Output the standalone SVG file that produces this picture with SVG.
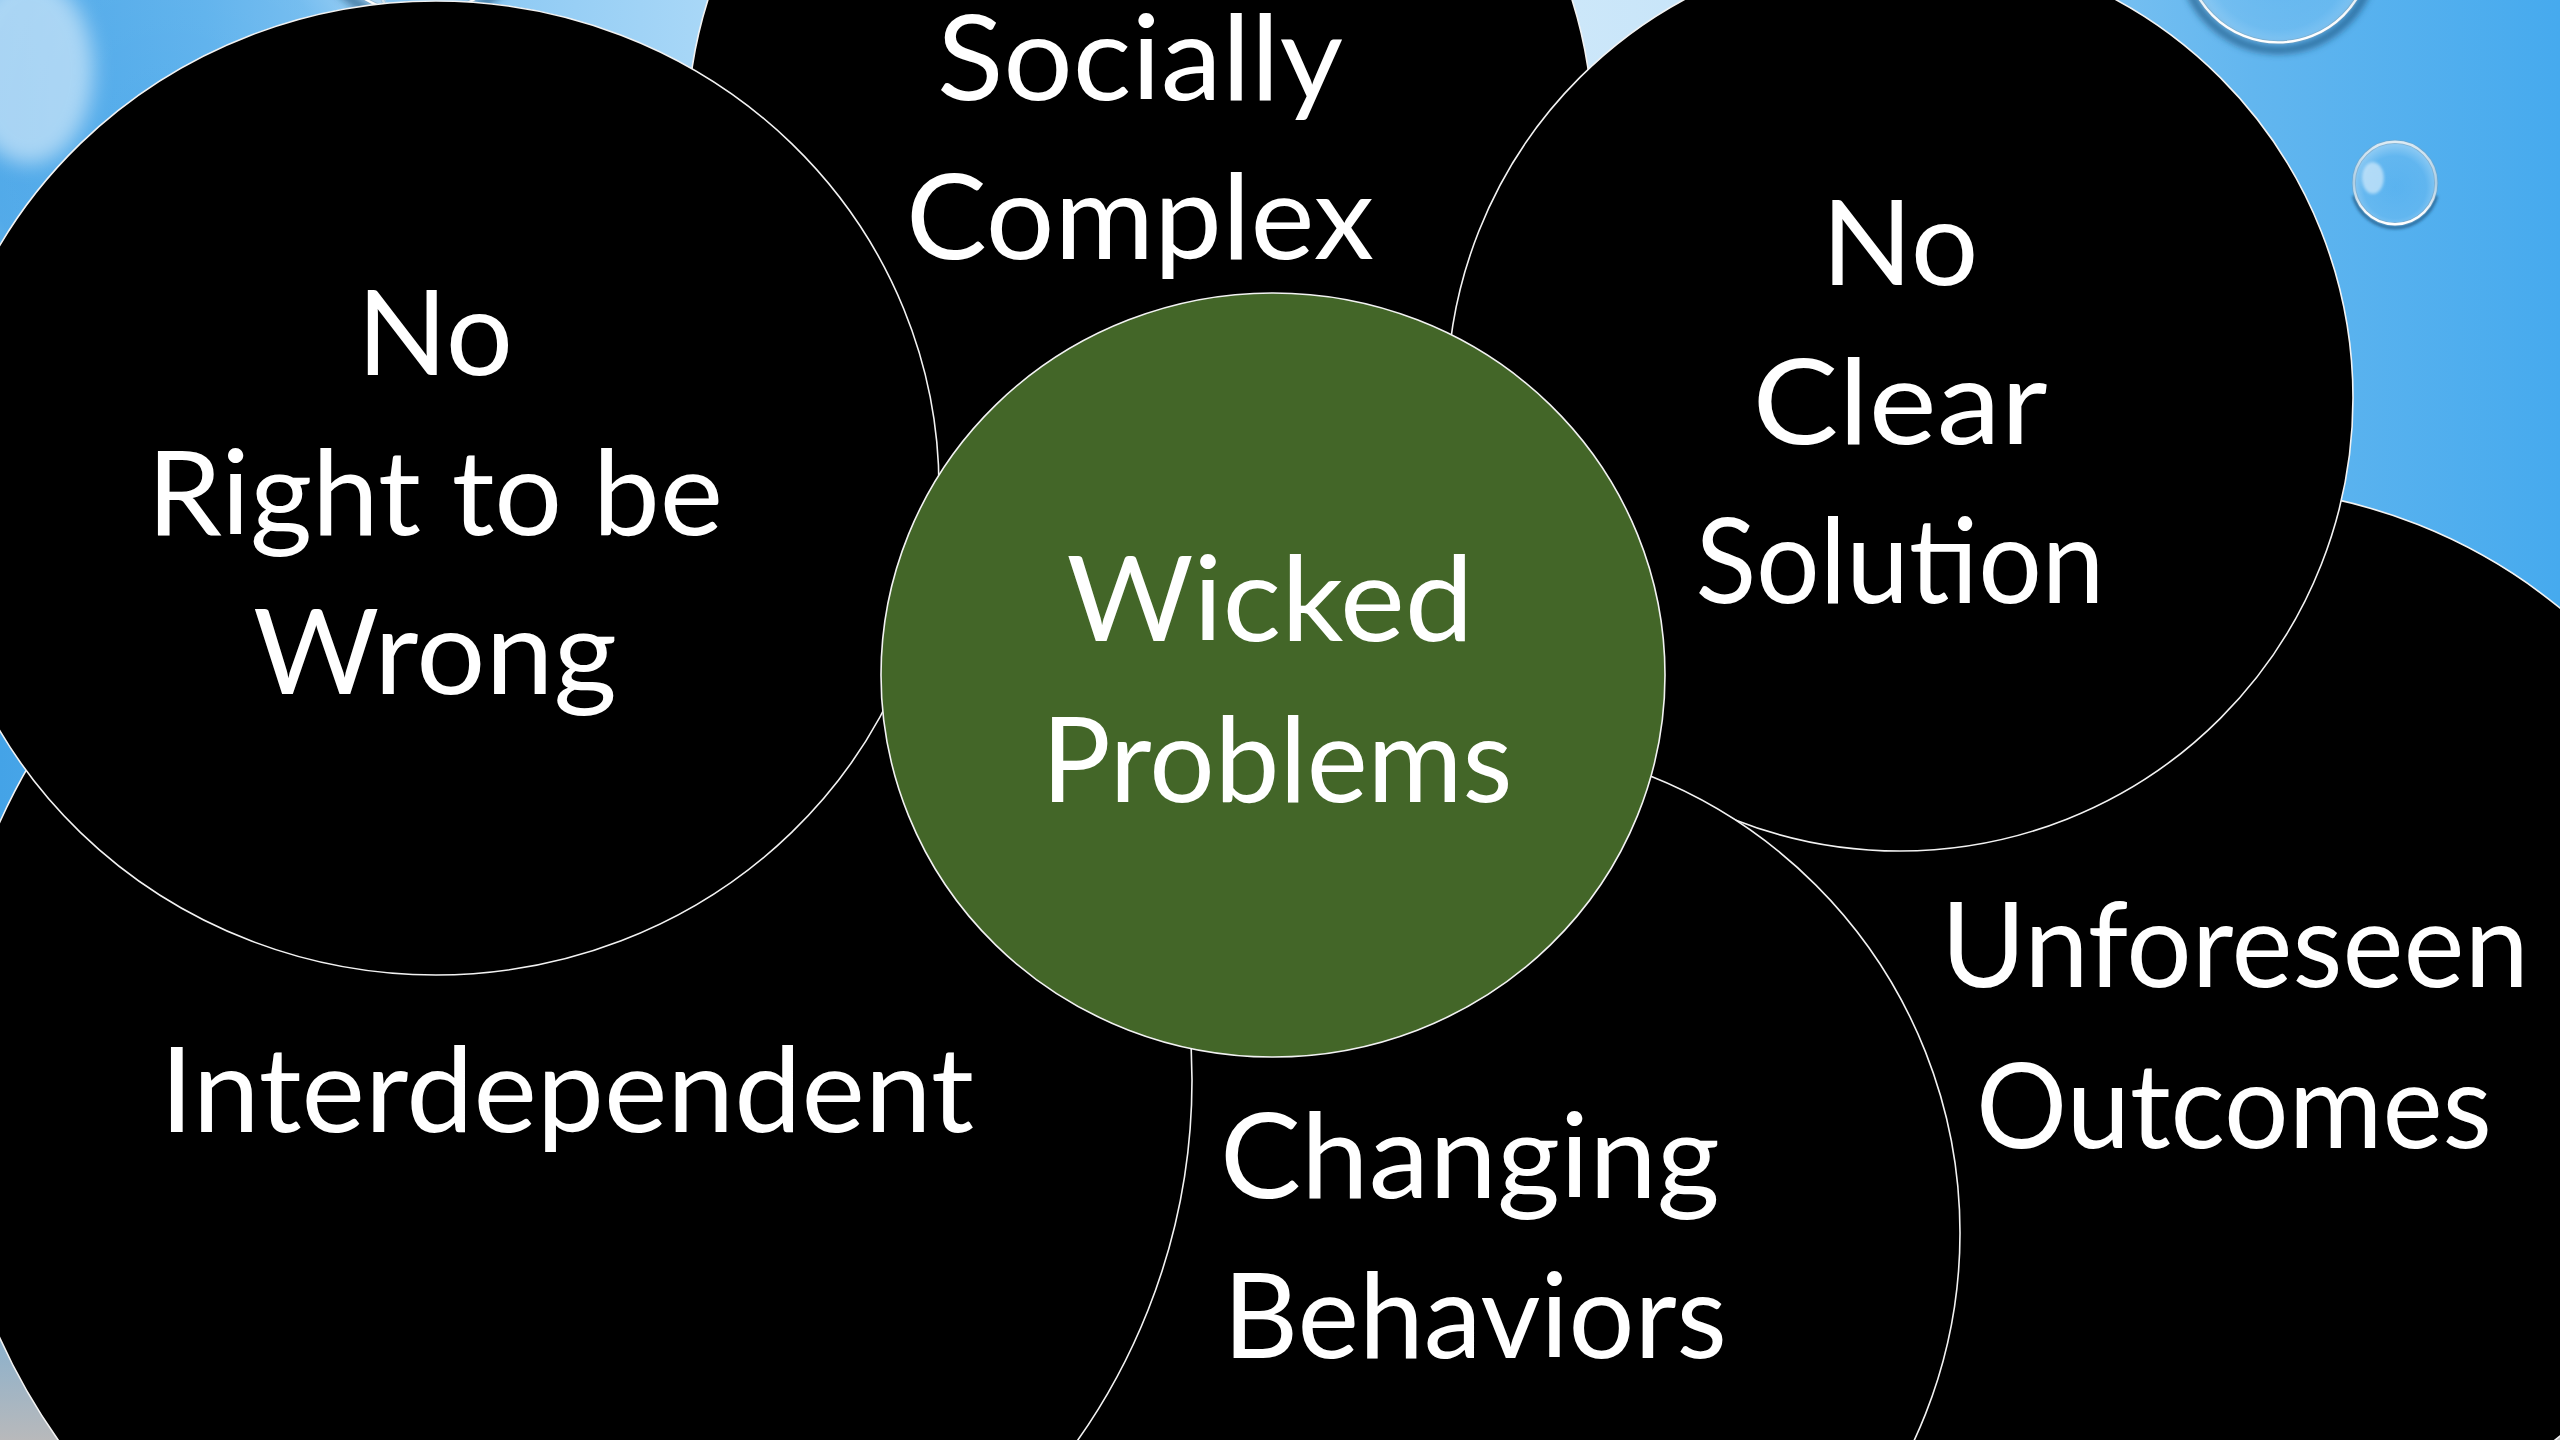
<svg xmlns="http://www.w3.org/2000/svg" xmlns:xlink="http://www.w3.org/1999/xlink" width="2560" height="1440" viewBox="0 0 2560 1440">
  <defs>
    <style>
      .disc { fill: #000; stroke: #f2f2f2; stroke-width: 1.6; }
      .hub { fill: #436628; stroke: #f2f2f2; stroke-width: 1.6; }
      .label { font-family: Lato, "Open Sans", "Liberation Sans", sans-serif; font-size: 118px; fill: #fff; text-anchor: middle; }
    </style>
    <!-- sky backdrop: lighter towards the upper middle, greying at the bottom -->
    <linearGradient id="sky" x1="0" y1="0" x2="1" y2="0">
      <stop offset="0" stop-color="#44a3e7"/>
      <stop offset="0.08" stop-color="#58afec"/>
      <stop offset="0.2" stop-color="#90cbf4"/>
      <stop offset="0.3" stop-color="#b0dbf8"/>
      <stop offset="0.55" stop-color="#d2eafa"/>
      <stop offset="0.66" stop-color="#c8e5f9"/>
      <stop offset="0.78" stop-color="#86c7f3"/>
      <stop offset="0.88" stop-color="#62b6ef"/>
      <stop offset="1" stop-color="#46aaee"/>
    </linearGradient>
    <linearGradient id="floor" x1="0" y1="0" x2="0" y2="1">
      <stop offset="0.72" stop-color="#b8b9bb" stop-opacity="0"/>
      <stop offset="0.9" stop-color="#b8b9bb" stop-opacity="0.45"/>
      <stop offset="1" stop-color="#b8b9bb" stop-opacity="1"/>
    </linearGradient>
    <!-- water droplet parts -->
    <radialGradient id="dropBody" cx="0.5" cy="0.55" r="0.5">
      <stop offset="0" stop-color="#ffffff" stop-opacity="0.03"/>
      <stop offset="0.75" stop-color="#ffffff" stop-opacity="0.08"/>
      <stop offset="1" stop-color="#ffffff" stop-opacity="0.3"/>
    </radialGradient>
    <linearGradient id="dropRim" x1="0" y1="0" x2="0" y2="1">
      <stop offset="0" stop-color="#ffffff" stop-opacity="0.75"/>
      <stop offset="0.5" stop-color="#e8f2f8" stop-opacity="0.45"/>
      <stop offset="0.85" stop-color="#ffffff" stop-opacity="0.95"/>
      <stop offset="1" stop-color="#ffffff" stop-opacity="1"/>
    </linearGradient>
    <filter id="soft" x="-50%" y="-50%" width="200%" height="200%">
      <feGaussianBlur stdDeviation="4"/>
    </filter>
    <symbol id="drop" viewBox="-120 -120 240 240" overflow="visible">
      <path d="M 99.5 26.7 A 103 103 0 0 1 -99.5 26.7" transform="translate(0 4)" fill="none" stroke="#174b75" stroke-opacity="0.7" stroke-width="8" filter="url(#soft)"/>
      <circle r="100" fill="url(#dropBody)"/>
      <circle r="99" fill="none" stroke="#7d9db3" stroke-opacity="0.5" stroke-width="4" vector-effect="non-scaling-stroke"/>
      <circle r="99" fill="none" stroke="url(#dropRim)" stroke-width="2.4" vector-effect="non-scaling-stroke"/>
      <ellipse cx="-53" cy="-12" rx="26" ry="38" fill="#ffffff" opacity="0.5" filter="url(#soft)"/>
    </symbol>
  </defs>

  <!-- backdrop -->
  <rect width="2560" height="1440" fill="url(#sky)"/>
  <rect width="2560" height="1440" fill="url(#floor)"/>

  <!-- droplets -->
  <g id="droplets">
    <use href="#drop" x="-136" y="-196" width="592" height="592"/>
    <use href="#drop" x="288" y="-227" width="264" height="264"/>
    <use href="#drop" x="2166" y="-162" width="224" height="224"/>
    <use href="#drop" x="2345" y="133" width="100" height="100"/>
  </g>

  <!-- radial set of characteristics, back to front -->
  <g id="socially-complex">
    <circle class="disc" cx="1140" cy="136" r="453"/>
    <text class="label" x="1140" y="100" textLength="406" lengthAdjust="spacingAndGlyphs">Socially</text>
    <text class="label" x="1140" y="259" textLength="468" lengthAdjust="spacingAndGlyphs">Complex</text>
  </g>
  <g id="unforeseen-outcomes">
    <circle class="disc" cx="2221" cy="1022" r="535"/>
    <text class="label" x="2235" y="987" textLength="588" lengthAdjust="spacingAndGlyphs">Unforeseen</text>
    <text class="label" x="2234" y="1148" textLength="516" lengthAdjust="spacingAndGlyphs">Outcomes</text>
  </g>
  <g id="no-clear-solution">
    <circle class="disc" cx="1900" cy="398" r="453"/>
    <text class="label" x="1900" y="285" textLength="157" lengthAdjust="spacingAndGlyphs">No</text>
    <text class="label" x="1900" y="444" textLength="295" lengthAdjust="spacingAndGlyphs">Clear</text>
    <text class="label" x="1900" y="603" textLength="409" lengthAdjust="spacingAndGlyphs">Solution</text>
  </g>
  <g id="changing-behaviors">
    <circle class="disc" cx="1468" cy="1233" r="492"/>
    <text class="label" x="1470" y="1198" textLength="500" lengthAdjust="spacingAndGlyphs">Changing</text>
    <text class="label" x="1475" y="1358" textLength="504" lengthAdjust="spacingAndGlyphs">Behaviors</text>
  </g>
  <g id="interdependent">
    <circle class="disc" cx="568" cy="1080" r="624"/>
    <text class="label" x="567" y="1132" textLength="814" lengthAdjust="spacingAndGlyphs">Interdependent</text>
  </g>
  <g id="no-right-to-be-wrong">
    <ellipse class="disc" cx="436" cy="488" rx="503" ry="487"/>
    <text class="label" x="435" y="375" textLength="156" lengthAdjust="spacingAndGlyphs">No</text>
    <text class="label" x="435" y="535" textLength="576" lengthAdjust="spacingAndGlyphs">Right to be</text>
    <text class="label" x="435" y="694" textLength="364" lengthAdjust="spacingAndGlyphs">Wrong</text>
  </g>
  <g id="wicked-problems">
    <ellipse class="hub" cx="1273" cy="675" rx="392" ry="382"/>
    <text class="label" x="1270" y="641" textLength="407" lengthAdjust="spacingAndGlyphs">Wicked</text>
    <text class="label" x="1277" y="802" textLength="471" lengthAdjust="spacingAndGlyphs">Problems</text>
  </g>

  <g id="connectors"/>
</svg>
